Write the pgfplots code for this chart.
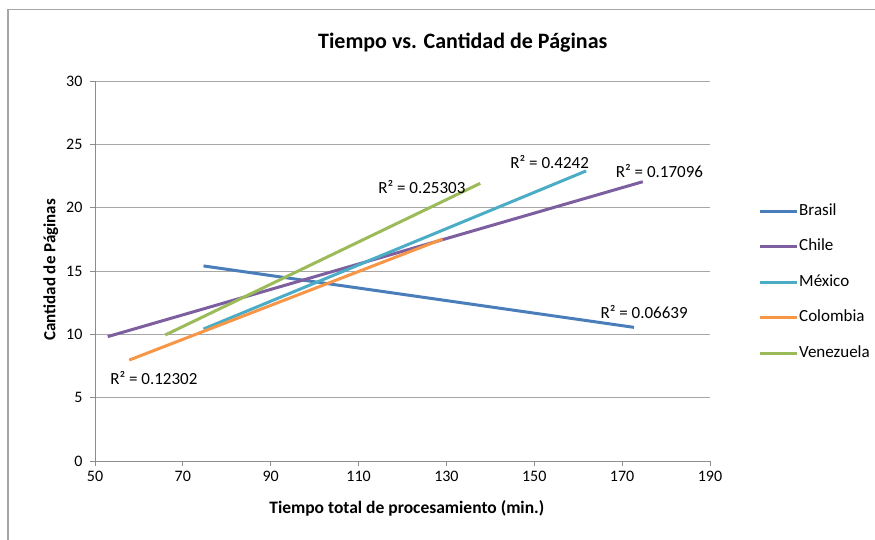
\documentclass[border=0pt]{standalone}
\usepackage{pgfplots}
\pgfplotsset{compat=1.18}
\usepackage{fontspec}
\setmainfont{Carlito}
\definecolor{cBra}{HTML}{4A7EBB}
\definecolor{cChi}{HTML}{7D5FA0}
\definecolor{cMex}{HTML}{4BACC6}
\definecolor{cCol}{HTML}{F79646}
\definecolor{cVen}{HTML}{9BBB59}
\definecolor{gridc}{HTML}{A6A6A6}
\definecolor{axc}{HTML}{8C8C8C}
\begin{document}
\begin{tikzpicture}[x=1pt,y=1pt]
\useasboundingbox (-95,-79) rectangle (780,461);
\draw[color=gridc, line width=1.2pt] (-87,-79) -- (-87,451.5) -- (780,451.5);
\begin{axis}[
  at={(0,0)}, anchor=south west,
  scale only axis, width=615pt, height=380pt,
  xmin=50, xmax=190, ymin=0, ymax=30,
  xtick={50,70,...,190}, ytick={0,5,...,30},
  axis x line=bottom, axis y line=left,
  axis line style={draw=axc, line width=0.9pt, -},
  ymajorgrids, grid style={gridc, line width=0.9pt},
  tick style={axc, line width=0.9pt},
  tick align=outside, major tick length=5pt,
  tick label style={font=\fontsize{16}{19}\selectfont},
  yticklabel style={xshift=-4pt},
  xticklabel style={yshift=-2pt},
  /pgf/number format/assume math mode=true,
  clip=false,
  title={Tiempo vs. Cantidad de Páginas},
  title style={at={(axis description cs:0.598,1.085)}, anchor=center, font=\bfseries\fontsize{22}{26}\selectfont},
  xlabel={Tiempo total de procesamiento (min.)},
  xlabel style={at={(axis description cs:0.507,-0.124)}, anchor=center, font=\bfseries\fontsize{17.5}{20}\selectfont},
  ylabel={Cantidad de Páginas},
  ylabel style={at={(axis description cs:-0.072,0.503)}, anchor=center, rotate=0, font=\bfseries\fontsize{17}{20}\selectfont},
  legend cell align=left,
  legend style={at={(axis description cs:1.074,0.684)}, anchor=north west, draw=none, fill=none,
    font=\fontsize{17}{20}\selectfont, row sep=19.5pt,
    nodes={inner xsep=0.5pt, inner ysep=0pt, text height=12pt, text depth=4pt}},
  legend image code/.code={\draw[line width=3pt] (0pt,0pt) -- (37pt,0pt);},
  every axis plot/.append style={line width=3pt},
]
\addplot[cBra] coordinates {(74.7,15.40) (172.7,10.55)};
\addlegendentry{Brasil}
\addplot[cChi] coordinates {(52.9,9.82) (174.7,22.05)};
\addlegendentry{Chile}
\addplot[cMex] coordinates {(74.7,10.42) (161.8,22.90)};
\addlegendentry{México}
\addplot[cCol] coordinates {(57.8,7.97) (129.1,17.52)};
\addlegendentry{Colombia}
\addplot[cVen] coordinates {(66.0,9.95) (137.7,21.92)};
\addlegendentry{Venezuela}
\node[font=\fontsize{17}{20}\selectfont] at (axis cs:124.4,21.6) {R² = 0.25303};
\node[font=\fontsize{17}{20}\selectfont] at (axis cs:153.5,23.6) {R² = 0.4242};
\node[font=\fontsize{17}{20}\selectfont] at (axis cs:178.5,22.9) {R² = 0.17096};
\node[font=\fontsize{17}{20}\selectfont] at (axis cs:175.0,11.76) {R² = 0.06639};
\node[font=\fontsize{17}{20}\selectfont] at (axis cs:63.4,6.55) {R² = 0.12302};
\end{axis}
\end{tikzpicture}
\end{document}
